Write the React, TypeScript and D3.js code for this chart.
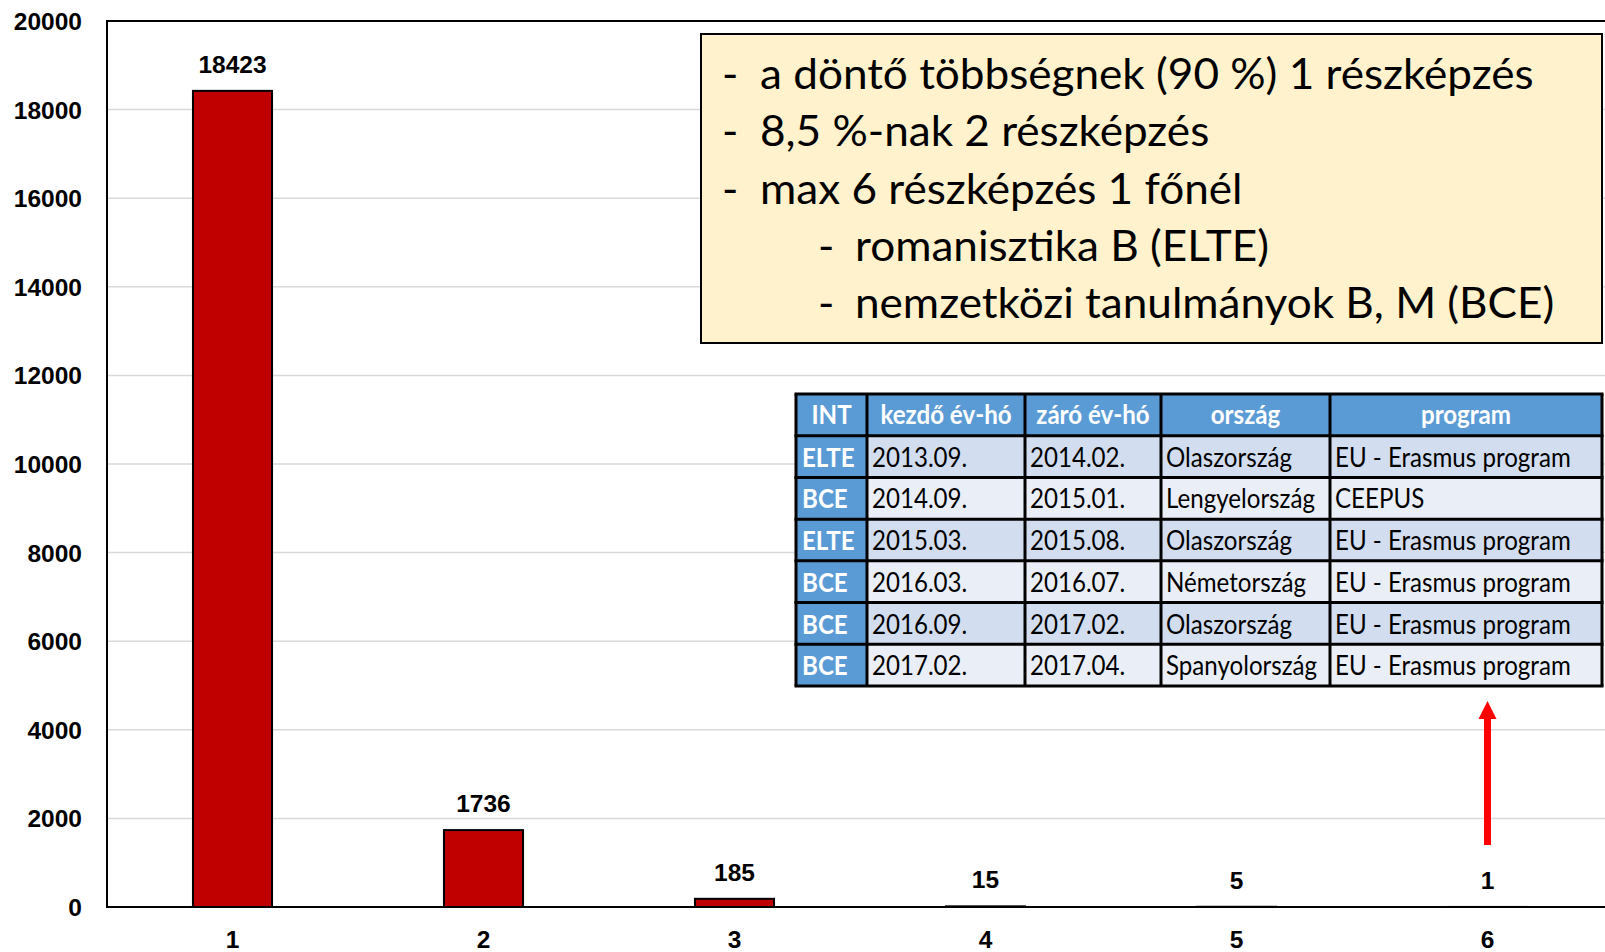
import React, { useEffect, useRef } from 'react';
import * as d3 from 'd3';

// number of part-trainings per person -> number of people
const categories = ['1', '2', '3', '4', '5', '6'];
const counts = [18423, 1736, 185, 15, 5, 1];
const yMax = 20000;

const noteLines = [
  { level: 0, text: 'a döntő többségnek (90 %) 1 részképzés' },
  { level: 0, text: '8,5 %-nak 2 részképzés' },
  { level: 0, text: 'max 6 részképzés 1 főnél' },
  { level: 1, text: 'romanisztika B (ELTE)' },
  { level: 1, text: 'nemzetközi tanulmányok B, M (BCE)' },
];

const tableHeader = ['INT', 'kezdő év-hó', 'záró év-hó', 'ország', 'program'];
const institutions = ['ELTE', 'BCE', 'ELTE', 'BCE', 'BCE', 'BCE'];
const startDates = ['2013.09.', '2014.09.', '2015.03.', '2016.03.', '2016.09.', '2017.02.'];
const endDates = ['2014.02.', '2015.01.', '2015.08.', '2016.07.', '2017.02.', '2017.04.'];
const countries = ['Olaszország', 'Lengyelország', 'Olaszország', 'Németország', 'Olaszország', 'Spanyolország'];
const programs = ['EU - Erasmus program', 'CEEPUS', 'EU - Erasmus program', 'EU - Erasmus program', 'EU - Erasmus program', 'EU - Erasmus program'];

const W = 1605;
const H = 952;

const BarChart = () => {
  const svgRef = useRef(null);

  useEffect(() => {
    const margin = { top: 21, left: 107, bottom: 45 };
    const plotBottom = H - margin.bottom;
    const plotRight = margin.left + 251 * categories.length;

    const svg = d3.select(svgRef.current);
    svg.selectAll('*').remove();

    const x = d3.scaleBand()
      .domain(categories)
      .range([margin.left, plotRight])
      .paddingInner(0.685)
      .paddingOuter(0.3425);

    const y = d3.scaleLinear()
      .domain([0, yMax])
      .range([plotBottom, margin.top]);

    const ticks = y.ticks(10);

    // gridlines
    svg.append('g')
      .selectAll('line')
      .data(ticks.filter(t => t > 0 && t < yMax))
      .join('line')
      .attr('x1', margin.left)
      .attr('x2', W)
      .attr('y1', d => y(d))
      .attr('y2', d => y(d))
      .attr('stroke', '#d9d9d9')
      .attr('stroke-width', 1.5);

    // y tick labels
    svg.append('g')
      .selectAll('text')
      .data(ticks)
      .join('text')
      .attr('x', 82)
      .attr('y', d => y(d) + 9)
      .attr('text-anchor', 'end')
      .attr('font-family', 'Liberation Sans, Arial, sans-serif')
      .attr('font-weight', 'bold')
      .attr('font-size', 24.5)
      .text(d => d);

    // frame
    svg.append('path')
      .attr('d', `M${W},${margin.top}H${margin.left}V${plotBottom}H${W}`)
      .attr('fill', 'none')
      .attr('stroke', '#000')
      .attr('stroke-width', 2);

    // bars
    svg.append('g')
      .selectAll('rect')
      .data(counts)
      .join('rect')
      .attr('x', (d, i) => x(categories[i]))
      .attr('width', x.bandwidth())
      .attr('y', d => y(d))
      .attr('height', d => plotBottom - y(d))
      .attr('fill', '#c00000')
      .attr('stroke', '#000')
      .attr('stroke-width', 2);

    // value labels
    svg.append('g')
      .selectAll('text')
      .data(counts)
      .join('text')
      .attr('x', (d, i) => x(categories[i]) + x.bandwidth() / 2)
      .attr('y', d => y(d) - 18)
      .attr('text-anchor', 'middle')
      .attr('font-family', 'Liberation Sans, Arial, sans-serif')
      .attr('font-weight', 'bold')
      .attr('font-size', 24.5)
      .text(d => d);

    // x labels
    svg.append('g')
      .selectAll('text')
      .data(categories)
      .join('text')
      .attr('x', d => x(d) + x.bandwidth() / 2)
      .attr('y', plotBottom + 41)
      .attr('text-anchor', 'middle')
      .attr('font-family', 'Liberation Sans, Arial, sans-serif')
      .attr('font-weight', 'bold')
      .attr('font-size', 24.5)
      .text(d => d);

    // note box
    const box = { x: 701, y: 34, w: 901, h: 309 };
    svg.append('rect')
      .attr('x', box.x)
      .attr('y', box.y)
      .attr('width', box.w)
      .attr('height', box.h)
      .attr('fill', '#fff2cc')
      .attr('stroke', '#000')
      .attr('stroke-width', 2);

    const noteFont = 'Lato, Open Sans, sans-serif';
    const noteScale = 1.05;
    const lineStep = 57.3;
    noteLines.forEach((l, i) => {
      const baseY = box.y + 55 + i * lineStep;
      const dashX = box.x + 21 + l.level * 96;
      const textX = box.x + 59 + l.level * 95;
      svg.append('text')
        .attr('transform', `translate(${dashX},${baseY}) scale(${noteScale},1)`)
        .attr('font-family', noteFont)
        .attr('font-size', 42)
        .text('-');
      svg.append('text')
        .attr('transform', `translate(${textX},${baseY}) scale(${noteScale},1)`)
        .attr('font-family', noteFont)
        .attr('font-size', 42)
        .text(l.text);
    });

    // table
    const colX = [796, 867, 1025, 1161, 1330, 1602];
    const tTop = 394;
    const rowH = (686 - tTop) / 7;
    const tableFont = 'Lato, Open Sans, sans-serif';
    const cellScale = 0.91;
    const rows = institutions.map((inst, i) => [inst, startDates[i], endDates[i], countries[i], programs[i]]);

    const tg = svg.append('g');
    const cellText = (txt, cx, cy, opts) => {
      tg.append('text')
        .attr('transform', `translate(${cx},${cy}) scale(${cellScale},1)`)
        .attr('text-anchor', opts.anchor || 'start')
        .attr('font-family', tableFont)
        .attr('font-size', 26.5)
        .attr('font-weight', opts.bold ? 'bold' : 'normal')
        .attr('fill', opts.color || '#000')
        .text(txt);
    };

    tableHeader.forEach((h, c) => {
      tg.append('rect')
        .attr('x', colX[c]).attr('y', tTop)
        .attr('width', colX[c + 1] - colX[c]).attr('height', rowH)
        .attr('fill', '#5b9bd5');
      cellText(h, (colX[c] + colX[c + 1]) / 2, tTop + 30, { anchor: 'middle', bold: true, color: '#fff' });
    });

    rows.forEach((r, ri) => {
      const top = tTop + rowH * (ri + 1);
      r.forEach((v, c) => {
        const fill = c === 0 ? '#5b9bd5' : (ri % 2 === 0 ? '#d2deef' : '#eaeff7');
        tg.append('rect')
          .attr('x', colX[c]).attr('y', top)
          .attr('width', colX[c + 1] - colX[c]).attr('height', rowH)
          .attr('fill', fill);
        if (c === 0) cellText(v, colX[c] + 6, top + 31, { bold: true, color: '#fff' });
        else cellText(v, colX[c] + 5, top + 31, {});
      });
    });

    // table grid lines
    colX.forEach(cx => {
      tg.append('line')
        .attr('x1', cx).attr('x2', cx)
        .attr('y1', tTop).attr('y2', tTop + rowH * 7)
        .attr('stroke', '#000').attr('stroke-width', 3);
    });
    d3.range(8).forEach(k => {
      tg.append('line')
        .attr('x1', colX[0] - 1.5).attr('x2', colX[colX.length - 1] + 1.5)
        .attr('y1', tTop + rowH * k).attr('y2', tTop + rowH * k)
        .attr('stroke', '#000').attr('stroke-width', 3);
    });

    // red arrow pointing at the single 6-part case in the table
    const ax = x('6') + x.bandwidth() / 2;
    svg.append('line')
      .attr('x1', ax).attr('x2', ax)
      .attr('y1', 845).attr('y2', 716)
      .attr('stroke', '#ff0000')
      .attr('stroke-width', 7);
    svg.append('path')
      .attr('d', `M${ax - 9},719L${ax},701L${ax + 9},719Z`)
      .attr('fill', '#ff0000');
  }, []);

  return (
    <div style={{ position: 'absolute', left: 0, top: 0 }}>
      <svg ref={svgRef} width={W} height={H} style={{ display: 'block', background: '#fff' }}></svg>
    </div>
  );
};

export default function App() {
  return <BarChart />;
}
